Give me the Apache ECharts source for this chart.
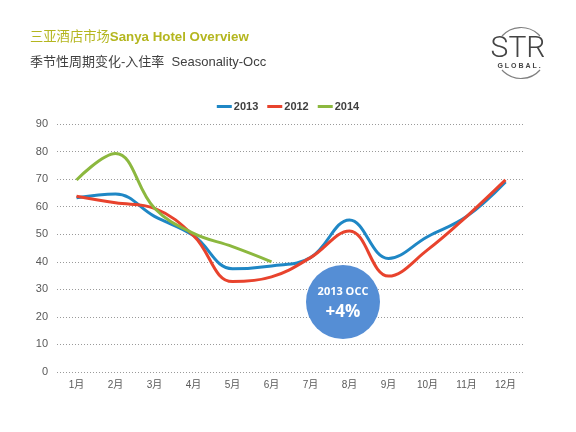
<!DOCTYPE html>
<html>
<head>
<meta charset="utf-8">
<script src="https://cdn.jsdelivr.net/npm/echarts@6/dist/echarts.min.js"></script>
<style>
  html, body { margin: 0; padding: 0; background: #fff; }
  #main { width: 576px; height: 432px; }
</style>
</head>
<body>
<div id="main"></div>
<script>
// 月份
const months = ['1月','2月','3月','4月','5月','6月','7月','8月','9月','10月','11月','12月'];
// 入住率 (%)
const occ2013 = [63.2, 64.6, 56.5, 49.5, 37.5, 38.5, 41.5, 55.2, 41.2, 49.1, 56.4, 69];
const occ2012 = [63.8, 61.4, 59.4, 49.5, 32.8, 34.5, 41.5, 51.2, 34.8, 44.3, 56.4, 69.7];
const occ2014 = [69.7, 79.3, 59.4, 50.3, 45.5, 40];
const yTicks = { min: 0, max: 90, interval: 10 };

const FONT = '"Liberation Sans", Arial, "Noto Sans CJK SC", sans-serif';
const arcA = 41.8 * Math.PI / 180;

let chart = echarts.init(document.getElementById('main'));
chart.setOption({
  backgroundColor: '#fff',
  animation: false,
  textStyle: { fontFamily: FONT },
  legend: {
    top: 96,
    left: 'center',
    itemWidth: 15,
    itemHeight: 3,
    itemGap: 9,
    icon: 'rect',
    textStyle: { fontSize: 11, fontWeight: 'bold', color: '#404040', padding: [0, 0, 0, -3] },
    data: ['2013', '2012', '2014']
  },
  grid: {
    left: 57,
    right: 51,
    top: 124,
    bottom: 60
  },
  xAxis: {
    type: 'category',
    boundaryGap: true,
    data: months,
    axisLine: { show: false },
    axisTick: { show: false },
    axisLabel: { color: '#595959', fontSize: 10, margin: 8 }
  },
  yAxis: {
    type: 'value',
    min: yTicks.min,
    max: yTicks.max,
    interval: yTicks.interval,
    axisLine: { show: false },
    axisTick: { show: false },
    axisLabel: { color: '#595959', fontSize: 11, margin: 9 },
    splitLine: {
      lineStyle: { color: '#9a9a9a', type: [1, 2], width: 1 }
    }
  },
  series: [
    {
      name: '2013',
      type: 'line',
      smooth: 0.4,
      symbol: 'none',
      data: occ2013,
      z: 3,
      itemStyle: { color: '#1f87c5' },
      lineStyle: { width: 3, color: '#1f87c5' }
    },
    {
      name: '2012',
      type: 'line',
      smooth: 0.4,
      symbol: 'none',
      data: occ2012,
      z: 4,
      itemStyle: { color: '#e8432d' },
      lineStyle: { width: 3, color: '#e8432d' }
    },
    {
      name: '2014',
      type: 'line',
      smooth: 0.4,
      symbol: 'none',
      data: occ2014,
      z: 5,
      itemStyle: { color: '#8cb83f' },
      lineStyle: { width: 3, color: '#8cb83f' }
    }
  ],
  graphic: [
    {
      type: 'text',
      left: 30,
      top: 31,
      style: {
        text: '{a|三亚酒店市场}{b|Sanya Hotel Overview}',
        rich: {
          a: { fontSize: 13.3, fill: '#b4b61f', fontFamily: FONT },
          b: { fontSize: 13.3, fontWeight: 'bold', fill: '#b4b61f', fontFamily: FONT }
        }
      }
    },
    {
      type: 'text',
      left: 30,
      top: 56,
      style: {
        text: '季节性周期变化-入住率  Seasonality-Occ',
        fontSize: 13,
        fill: '#404040',
        fontFamily: FONT
      }
    },
    // STR Global 标志
    {
      type: 'arc',
      shape: { cx: 521, cy: 53, r: 25.5, startAngle: Math.PI + arcA, endAngle: 2 * Math.PI - arcA },
      style: { stroke: '#808080', lineWidth: 1.2, fill: null }
    },
    {
      type: 'arc',
      shape: { cx: 521, cy: 53, r: 25.5, startAngle: arcA, endAngle: Math.PI - arcA },
      style: { stroke: '#808080', lineWidth: 1.2, fill: null }
    },
    {
      type: 'text',
      x: 518,
      y: 49.5,
      style: {
        text: 'STR',
        fontSize: 30,
        fontWeight: 300,
        fill: '#444',
        fontFamily: 'Roboto, "Liberation Sans", sans-serif',
        align: 'center',
        verticalAlign: 'middle'
      }
    },
    {
      type: 'text',
      x: 519,
      y: 66.5,
      style: {
        text: 'G L O B A L .',
        fontSize: 7,
        fontWeight: 'bold',
        fill: '#444',
        fontFamily: FONT,
        align: 'center',
        verticalAlign: 'middle'
      }
    },
    // 2013 OCC 气泡
    {
      type: 'circle',
      shape: { cx: 343, cy: 302, r: 37 },
      style: { fill: '#558ed5' },
      z: 100
    },
    {
      type: 'text',
      x: 343,
      y: 292,
      z: 101,
      style: {
        text: '2013 OCC',
        fontSize: 11,
        fontWeight: 'bold',
        fill: '#fff',
        fontFamily: '"Open Sans", "Liberation Sans", sans-serif',
        align: 'center',
        verticalAlign: 'middle'
      }
    },
    {
      type: 'text',
      x: 343,
      y: 312,
      z: 101,
      style: {
        text: '+4%',
        fontSize: 17,
        fontWeight: 'bold',
        fill: '#fff',
        fontFamily: '"Open Sans", "Liberation Sans", sans-serif',
        align: 'center',
        verticalAlign: 'middle'
      }
    }
  ]
});
</script>
</body>
</html>
